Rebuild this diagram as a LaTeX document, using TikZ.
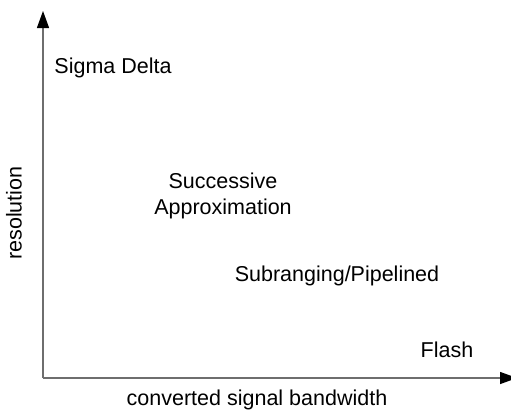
\documentclass[tikz,border=0pt]{standalone}
\usepackage{fontspec}
\setmainfont{Liberation Sans}
\usetikzlibrary{arrows.meta, positioning}
\definecolor{axisgray}{RGB}{110,110,110}
\tikzset{
  axis/.style={line width=1.3pt, color=axisgray,
    -{Triangle[length=17pt, width=12pt, color=black]}},
  lbl/.style={font=\fontsize{21.5}{25.5}\selectfont, align=center, inner sep=0pt}
}
\begin{document}
\begin{tikzpicture}[x=1pt, y=-1pt]
  \useasboundingbox (0,0) rectangle (511,410);
  % Axes
  \coordinate (origin) at (43,378);
  \coordinate (ytip) at (43,11);
  \coordinate (xtip) at (517,378);
  \draw[axis] (origin) -- (ytip);
  \draw[axis] (origin) -- (xtip);
  % Axis labels
  \node[lbl, rotate=90] (reslbl) at (14,213) {resolution};
  \node[lbl] (bwlbl) at (257,400) {converted signal bandwidth};
  % Converter types
  \node[lbl] (sigma) at (113,68) {Sigma Delta};
  \node[lbl] (sar) at (223,196) {Successive\\Approximation};
  \node[lbl] (pipe) at (337,276) {Subranging/Pipelined};
  \node[lbl] (flash) at (447,350) {Flash};
\end{tikzpicture}
\end{document}
